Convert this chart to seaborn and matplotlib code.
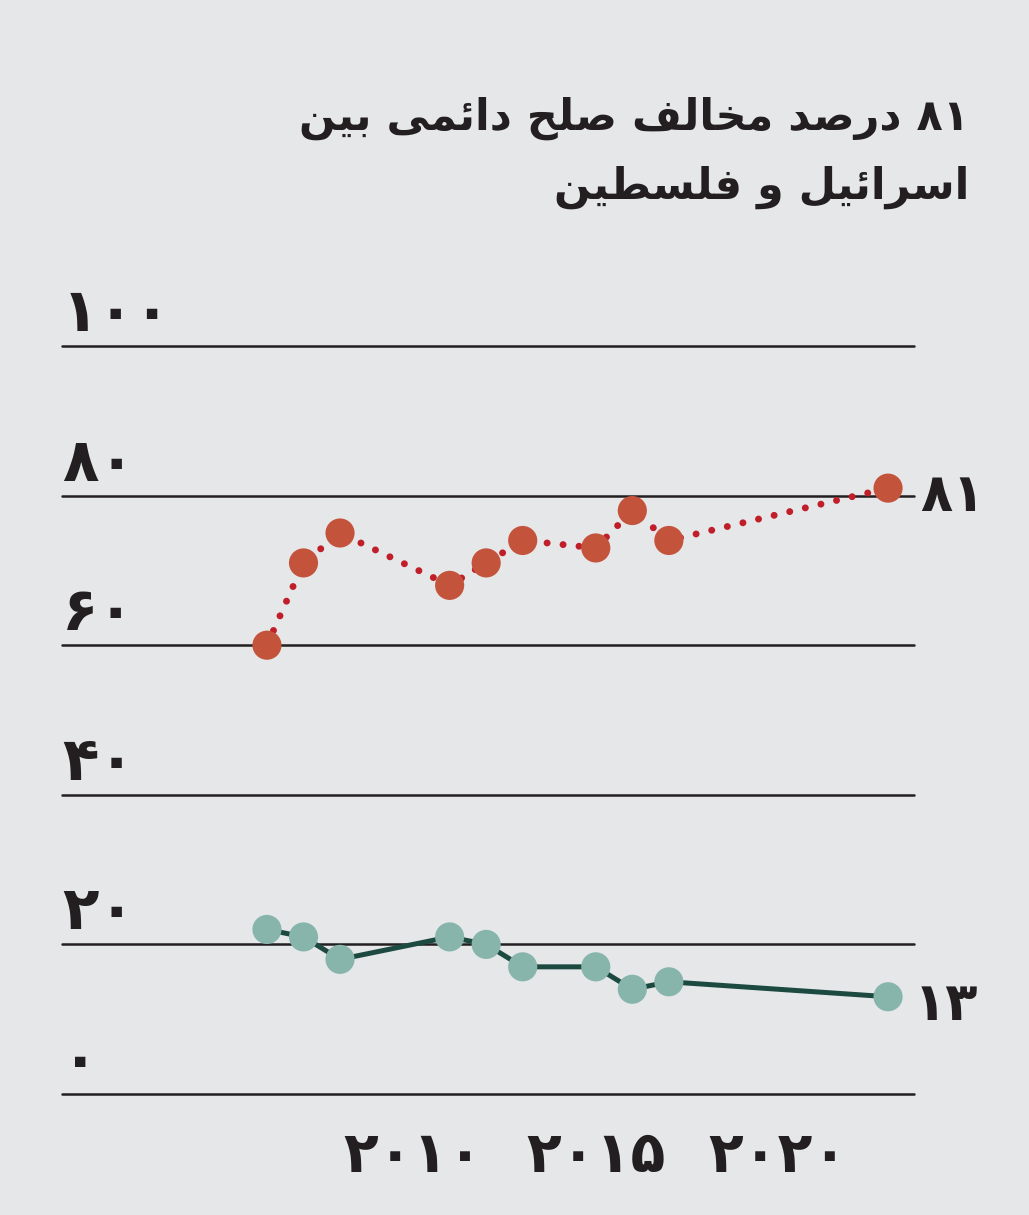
# --------------------------
# #Import Packages
# --------------------------
import re
import matplotlib
matplotlib.use("Agg")
import matplotlib.pyplot as plt
import seaborn as sns

# --------------------------
# #Data
# --------------------------
years = [2006, 2007, 2008, 2011, 2012, 2013, 2015, 2016, 2017, 2023]
oppose = [60, 71, 75, 68, 71, 74, 73, 78, 74, 81]
support = [22, 21, 18, 21, 20, 17, 17, 14, 15, 13]

y_ticks = [0, 20, 40, 60, 80, 100]
y_tick_labels = ["۰", "۲۰", "۴۰", "۶۰", "۸۰", "۱۰۰"]
x_ticks = [2010, 2015, 2020]
x_tick_labels = ["۲۰۱۰", "۲۰۱۵", "۲۰۲۰"]

title_lines = ["۸۱ درصد مخالف صلح دائمی بین", "اسرائیل و فلسطین"]
end_oppose = "۸۱"
end_support = "۱۳"

# --------------------------
# #Arabic shaping (matplotlib has no RTL / joining support)
# --------------------------
# (isolated, final, initial, medial); None -> letter does not join to the next one
FORMS = {
    "ا": ("\uFE8D", "\uFE8E", None, None),
    "ب": ("\uFE8F", "\uFE90", "\uFE91", "\uFE92"),
    "ح": ("\uFEA1", "\uFEA2", "\uFEA3", "\uFEA4"),
    "خ": ("\uFEA5", "\uFEA6", "\uFEA7", "\uFEA8"),
    "د": ("\uFEA9", "\uFEAA", None, None),
    "ر": ("\uFEAD", "\uFEAE", None, None),
    "س": ("\uFEB1", "\uFEB2", "\uFEB3", "\uFEB4"),
    "ص": ("\uFEB9", "\uFEBA", "\uFEBB", "\uFEBC"),
    "ط": ("\uFEC1", "\uFEC2", "\uFEC3", "\uFEC4"),
    "ف": ("\uFED1", "\uFED2", "\uFED3", "\uFED4"),
    "ل": ("\uFEDD", "\uFEDE", "\uFEDF", "\uFEE0"),
    "م": ("\uFEE1", "\uFEE2", "\uFEE3", "\uFEE4"),
    "ن": ("\uFEE5", "\uFEE6", "\uFEE7", "\uFEE8"),
    "و": ("\uFEED", "\uFEEE", None, None),
    "ئ": ("\uFE89", "\uFE8A", "\uFE8B", "\uFE8C"),
    "ی": ("\uFBFC", "\uFBFD", "\uFBFE", "\uFBFF"),
}


def rtl(text):
    out = []
    for i, c in enumerate(text):
        if c not in FORMS:
            out.append(c)
            continue
        prev = text[i - 1] if i > 0 else ""
        nxt = text[i + 1] if i + 1 < len(text) else ""
        iso, fin, ini, med = FORMS[c]
        j_prev = prev in FORMS and FORMS[prev][2] is not None
        j_next = ini is not None and nxt in FORMS
        if j_prev and j_next:
            out.append(med)
        elif j_prev:
            out.append(fin)
        elif j_next:
            out.append(ini)
        else:
            out.append(iso)
    s = "".join(out)[::-1]
    # numbers keep left-to-right order
    return re.sub(r"[\u06F0-\u06F9]+", lambda m: m.group(0)[::-1], s)


# --------------------------
# #Style
# --------------------------
bg = "#e6e7e9"
ink = "#231f20"
red_line = "#c01f2a"
red_dot = "#c4533c"
green_line = "#1d4a40"
green_dot = "#87b5ab"

sns.set_theme(style="white")
plt.rcParams["font.family"] = ["DejaVu Sans"]
plt.rcParams["font.weight"] = "bold"

W, H = 1029, 1215
fig = plt.figure(figsize=(W / 100, H / 100), dpi=100, facecolor=bg)

# plot area in pixels: gridlines from x=62 to 914, y=0 at 1094, y=100 at 346
ax = fig.add_axes([62 / W, (H - 1094) / H, 852 / W, 748 / H])
ax.set_facecolor(bg)
ax.set_xlim(2000.39, 2023.71)
ax.set_ylim(0, 100)
for s in ax.spines.values():
    s.set_visible(False)
ax.set_xticks([])
ax.set_yticks([])

# gridlines + y labels
for t, lab in zip(y_ticks, y_tick_labels):
    ax.axhline(t, color=ink, lw=1.8, zorder=1, clip_on=False)
    ax.text(0.0, t + 2.0, lab, transform=ax.get_yaxis_transform(),
            ha="left", va="baseline", fontsize=43, fontweight="bold", color=ink)

# x labels
for t, lab in zip(x_ticks, x_tick_labels):
    ax.text(t, -0.083, lab, transform=ax.get_xaxis_transform(),
            ha="center", va="center", fontsize=41, fontweight="bold", color=ink)

# --------------------------
# #Lines
# --------------------------
sns.lineplot(x=years, y=oppose, ax=ax, color=red_line, lw=5,
             linestyle=(0, (0.01, 2.3)), dash_capstyle="round", zorder=2)
sns.scatterplot(x=years, y=oppose, ax=ax, color=red_dot, s=440,
                edgecolor="none", zorder=3, clip_on=False)

sns.lineplot(x=years, y=support, ax=ax, color=green_line, lw=3.6, zorder=2)
sns.scatterplot(x=years, y=support, ax=ax, color=green_dot, s=440,
                edgecolor="none", zorder=3, clip_on=False)

# end labels
ax.annotate(end_oppose, (years[-1], oppose[-1]), xytext=(32, -8),
            textcoords="offset pixels", ha="left", va="center",
            fontsize=38, fontweight="bold", color=ink, annotation_clip=False)
ax.annotate(end_support, (years[-1], support[-1]), xytext=(26, -8),
            textcoords="offset pixels", ha="left", va="center",
            fontsize=38, fontweight="bold", color=ink, annotation_clip=False)

# --------------------------
# #Title
# --------------------------
fig.text(969 / W, 1 - 130 / H, rtl(title_lines[0]), ha="right", va="baseline",
         fontsize=31, fontweight="bold", color=ink)
fig.text(969 / W, 1 - 199 / H, rtl(title_lines[1]), ha="right", va="baseline",
         fontsize=31, fontweight="bold", color=ink)

fig.savefig("out.png", dpi=100, facecolor=bg)
